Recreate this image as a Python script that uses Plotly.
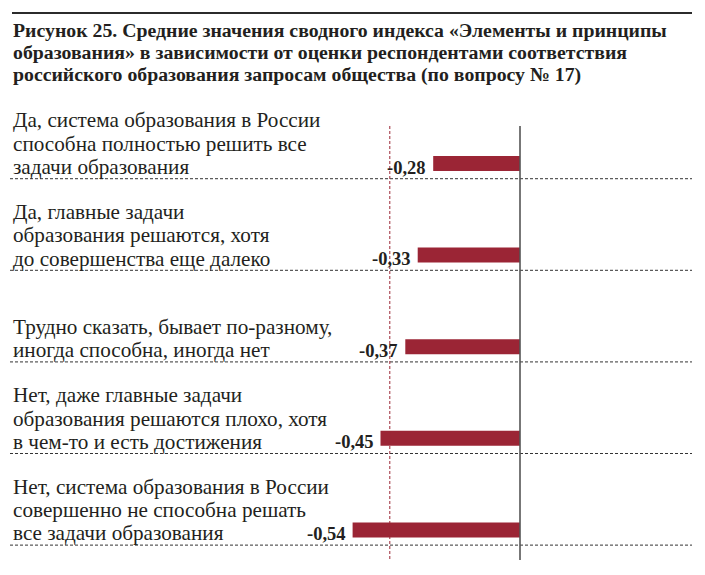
import plotly.graph_objects as go

# ---- data ----
categories = [
    "Да, система образования в России<br>способна полностью решить все<br>задачи образования",
    "Да, главные задачи<br>образования решаются, хотя<br>до совершенства еще далеко",
    "Трудно сказать, бывает по-разному,<br>иногда способна, иногда нет",
    "Нет, даже главные задачи<br>образования решаются плохо, хотя<br>в чем-то и есть достижения",
    "Нет, система образования в России<br>совершенно не способна решать<br>все задачи образования",
]
values = [-0.28, -0.33, -0.37, -0.45, -0.54]
reference_value = -0.42
title_lines = [
    "Рисунок 25. Средние значения сводного индекса «Элементы и принципы",
    "образования» в зависимости от оценки респондентами соответствия",
    "российского образования запросам общества (по вопросу № 17)",
]

W, H = 705, 575
BAR_COLOR = "#9B2535"
TEXT_COLOR = "#231f20"
SERIF = "Liberation Serif, Times New Roman, serif"

Y0_PX, Y_STEP = 163.5, 91.6   # pixel centre of first row, row spacing

def px_x(p):
    return p / W

def px_y(p):
    return 1 - p / H

def px_to_row(p):
    return (p - Y0_PX) / Y_STEP

fig = go.Figure()
fig.add_trace(go.Bar(
    x=values,
    y=list(range(len(categories))),
    orientation="h",
    marker=dict(color=BAR_COLOR, line=dict(width=0)),
    width=0.164,
    hoverinfo="skip",
))

annotations = []
# title lines
title_baselines = [35, 57, 79]
for line, b in zip(title_lines, title_baselines):
    annotations.append(dict(
        x=px_x(11), y=px_y(b - 5), xref="paper", yref="paper",
        xanchor="left", yanchor="middle", showarrow=False,
        text=line, font=dict(family=SERIF, size=19.8, color=TEXT_COLOR, weight="bold"),
    ))

LINE_H = 23.3
for i, (cat, v) in enumerate(zip(categories, values)):
    lines = cat.split("<br>")
    n = len(lines)
    for j, ln in enumerate(lines):
        annotations.append(dict(
            x=px_x(11), y=i, xref="paper", yref="y",
            xanchor="left", yanchor="middle", showarrow=False,
            yshift=-3.5 + (n - 1 - j) * LINE_H,
            text=ln, font=dict(family=SERIF, size=21.2, color=TEXT_COLOR),
        ))
    annotations.append(dict(
        x=v, y=i, xref="x", yref="y",
        xanchor="right", yanchor="middle", showarrow=False,
        xshift=-5, yshift=-4,
        text=f"{v:.2f}".replace(".", ","),
        font=dict(family=SERIF, size=18.5, color=TEXT_COLOR, weight="bold"),
    ))

shapes = []
# top rule
shapes.append(dict(type="line", xref="paper", yref="y", layer="above",
                   x0=px_x(12), x1=px_x(692), y0=px_to_row(13), y1=px_to_row(13),
                   line=dict(color="#2b2b2b", width=2)))
# horizontal dashed separators
for i in range(len(categories)):
    shapes.append(dict(type="line", xref="paper", yref="y",
                       x0=px_x(10), x1=px_x(692), y0=i + 0.166, y1=i + 0.166,
                       line=dict(color="#333333", width=1, dash="3px,2px")))
# reference dashed vertical
shapes.append(dict(type="line", xref="x", yref="paper",
                   x0=reference_value, x1=reference_value, y0=px_y(126), y1=px_y(561),
                   line=dict(color=BAR_COLOR, width=1, dash="3px,2px")))
# zero line
shapes.append(dict(type="line", xref="x", yref="paper",
                   x0=0, x1=0, y0=px_y(126), y1=px_y(560),
                   line=dict(color="#555555", width=1.6)))

x_left = (0 - 520) / 310
x_right = (W - 520) / 310
y_top = px_to_row(0)
y_bot = px_to_row(H)

fig.update_layout(
    width=W, height=H,
    margin=dict(l=0, r=0, t=0, b=0),
    paper_bgcolor="white", plot_bgcolor="white",
    showlegend=False,
    xaxis=dict(range=[x_left, x_right], visible=False, fixedrange=True),
    yaxis=dict(range=[y_bot, y_top], visible=False, fixedrange=True),
    annotations=annotations,
    shapes=shapes,
)

fig.write_html("out.html")
